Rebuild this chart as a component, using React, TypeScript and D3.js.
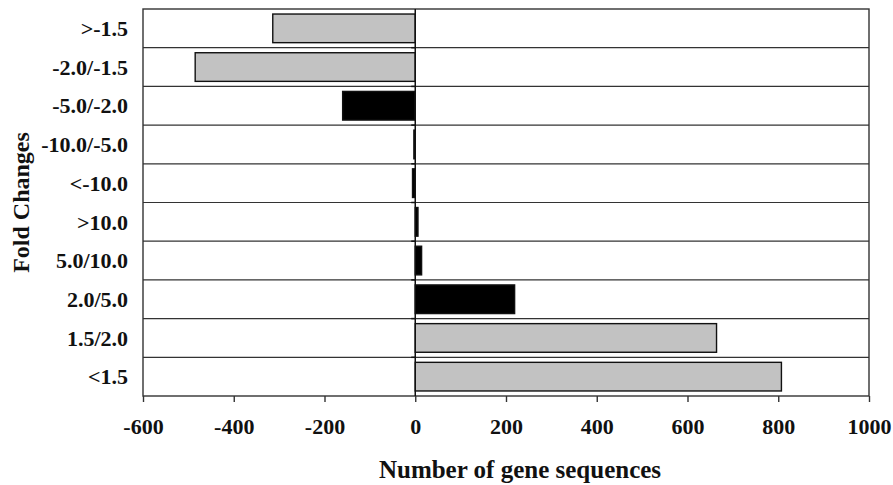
import * as d3 from "d3";
import { useEffect, useRef } from "react";

const categories = [">-1.5", "-2.0/-1.5", "-5.0/-2.0", "-10.0/-5.0", "<-10.0", ">10.0", "5.0/10.0", "2.0/5.0", "1.5/2.0", "<1.5"];
const counts = [-314, -485, -160, -3, -6, 6, 14, 219, 664, 807];
// dark bars for the |fold| >= 2 classes
const dark = [false, false, true, true, true, true, true, true, false, false];
const xTicks = [-600, -400, -200, 0, 200, 400, 600, 800, 1000];

const App = () => {
  const ref = useRef<SVGSVGElement>(null);
  const width = 893, height = 485;
  const margin = { top: 9, right: 24, bottom: 89, left: 143 };

  useEffect(() => {
    const svg = d3.select(ref.current);
    svg.selectAll("*").remove();

    const x = d3.scaleLinear().domain([-600, 1000]).range([margin.left, width - margin.right]);
    const y = d3.scaleBand().domain(categories).range([margin.top, height - margin.bottom]).paddingInner(0.26).paddingOuter(0.13);
    const step = y.step();
    const font = "'Liberation Serif', 'Times New Roman', serif";

    const g = svg.append("g");

    // row separators
    g.selectAll("line.row")
      .data(categories.slice(1))
      .enter()
      .append("line")
      .attr("x1", margin.left)
      .attr("x2", width - margin.right)
      .attr("y1", (d) => y(d)! - step * y.paddingInner() / 2)
      .attr("y2", (d) => y(d)! - step * y.paddingInner() / 2)
      .style("stroke", "#333")
      .style("stroke-width", 1.2);

    // bars
    g.selectAll("rect.bar")
      .data(categories)
      .enter()
      .append("rect")
      .attr("x", (_, i) => x(Math.min(0, counts[i])))
      .attr("width", (_, i) => Math.abs(x(counts[i]) - x(0)))
      .attr("y", (d) => y(d)!)
      .attr("height", y.bandwidth())
      .style("fill", (_, i) => (dark[i] ? "#000" : "#c2c2c2"))
      .style("stroke", "#111")
      .style("stroke-width", 1.4);

    // frame
    g.append("rect")
      .attr("x", margin.left)
      .attr("y", margin.top)
      .attr("width", width - margin.right - margin.left)
      .attr("height", height - margin.bottom - margin.top)
      .style("fill", "none")
      .style("stroke", "#333")
      .style("stroke-width", 1.4);

    // zero axis with small ticks at the row boundaries
    g.append("line")
      .attr("x1", x(0))
      .attr("x2", x(0))
      .attr("y1", margin.top)
      .attr("y2", height - margin.bottom)
      .style("stroke", "#111")
      .style("stroke-width", 1.5);
    g.selectAll("line.ytick")
      .data(categories.slice(1))
      .enter()
      .append("line")
      .attr("x1", x(0) - 4)
      .attr("x2", x(0))
      .attr("y1", (d) => y(d)! - step * y.paddingInner() / 2)
      .attr("y2", (d) => y(d)! - step * y.paddingInner() / 2)
      .style("stroke", "#111")
      .style("stroke-width", 1.5);

    // x axis
    const xAxis = g.append("g")
      .attr("transform", `translate(0, ${height - margin.bottom})`)
      .call(
        d3.axisBottom(x)
          .tickValues(xTicks)
          .tickFormat((d) => String(d))
          .tickSize(6)
          .tickSizeOuter(0)
          .tickPadding(16)
      );
    xAxis.select(".domain").remove();
    xAxis.selectAll(".tick line").style("stroke", "#333").style("stroke-width", 1.4);
    xAxis.selectAll("text")
      .style("font-family", font)
      .style("font-weight", "700")
      .style("font-size", "22px")
      .style("fill", "#111");

    // category labels
    g.selectAll("text.cat")
      .data(categories)
      .enter()
      .append("text")
      .attr("x", margin.left - 15)
      .attr("y", (d) => y(d)! + y.bandwidth() / 2)
      .attr("dy", "0.35em")
      .attr("text-anchor", "end")
      .style("font-family", font)
      .style("font-weight", "700")
      .style("font-size", "22px")
      .style("fill", "#111")
      .text((d) => d);

    // axis titles
    g.append("text")
      .attr("x", (margin.left + width - margin.right) / 2 + 14)
      .attr("y", 478)
      .attr("text-anchor", "middle")
      .style("font-family", font)
      .style("font-weight", "700")
      .style("font-size", "25px")
      .style("fill", "#111")
      .text("Number of gene sequences");

    g.append("text")
      .attr("transform", `translate(29, ${(margin.top + height - margin.bottom) / 2}) rotate(-90)`)
      .attr("text-anchor", "middle")
      .style("font-family", font)
      .style("font-weight", "700")
      .style("font-size", "24px")
      .style("fill", "#111")
      .text("Fold Changes");
  }, []);

  return (
    <svg
      ref={ref}
      width={width}
      height={height}
      style={{ position: "absolute", left: 0, top: 0, background: "#fff" }}
    />
  );
};

export default App;
